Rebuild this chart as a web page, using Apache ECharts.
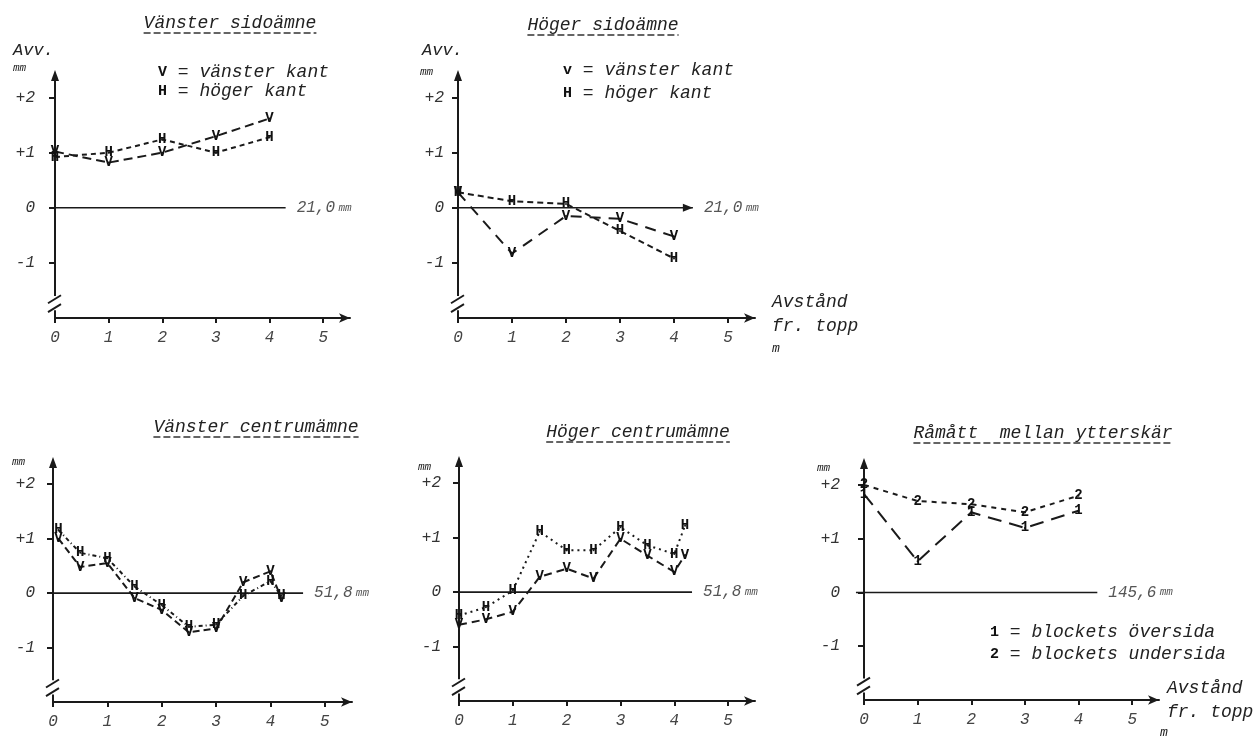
<!DOCTYPE html>
<html><head><meta charset="utf-8">
<script src="https://cdn.jsdelivr.net/npm/echarts@6/dist/echarts.min.js"></script>
<style>html,body{margin:0;padding:0;background:#fff}#c{width:1258px;height:739px}</style>
</head><body><div id="c"></div>
<script>
const FONT = '"Liberation Mono", "DejaVu Sans Mono", monospace';
// ---- data ----
const xTicks = [0, 1, 2, 3, 4, 5];
const yTicks = [-1, 0, 1, 2];
const xSide = [0, 1, 2, 3, 4];
const p1V = [1.02, 0.82, 1.0, 1.3, 1.62];
const p1H = [0.92, 1.0, 1.24, 1.0, 1.28];
const p2V = [0.28, -0.83, -0.15, -0.2, -0.52];
const p2H = [0.28, 0.12, 0.07, -0.42, -0.92];
const xC3 = [0.1, 0.5, 1, 1.5, 2, 2.5, 3, 3.5, 4, 4.2];
const p3V = [1.0, 0.48, 0.55, -0.09, -0.31, -0.72, -0.65, 0.2, 0.4, -0.1];
const p3H = [1.16, 0.74, 0.64, 0.12, -0.22, -0.62, -0.58, -0.05, 0.22, -0.05];
const xC4 = [0, 0.5, 1, 1.5, 2, 2.5, 3, 3.5, 4, 4.2];
const p4V = [-0.6, -0.5, -0.36, 0.28, 0.43, 0.25, 0.98, 0.67, 0.37, 0.68];
const p4H = [-0.43, -0.28, 0.03, 1.11, 0.77, 0.77, 1.19, 0.86, 0.7, 1.22];
const p5S1 = [1.83, 0.58, 1.49, 1.2, 1.52];
const p5S2 = [2.0, 1.7, 1.64, 1.49, 1.8];
const refValues = ['21,0', '21,0', '51,8', '51,8', '145,6'];
const titles = ['Vänster sidoämne', 'Höger sidoämne', 'Vänster centrumämne', 'Höger centrumämne', 'Råmått  mellan ytterskär'];

// ---- layout ----
const grids = [
  {left: 55, top: 70, width: 295, height: 248},
  {left: 458, top: 70, width: 297, height: 248},
  {left: 53, top: 457, width: 299, height: 245},
  {left: 459, top: 456, width: 296, height: 245},
  {left: 864, top: 458, width: 295, height: 242}
];
const zeroStart = [0, 0, -0.1, 0, -0.15];
const zeroEnd = [4.3, 4.35, 4.6, 4.33, 4.35];
const zeroArrow = [false, true, false, false, false];
const yMargin = [20, 14, 18, 18, 24];
const INK = '#1a1a1a';

const xAxes = grids.map((g, i) => ({
  type: 'value', gridIndex: i, min: 0, max: 5.5,
  axisLine: {show: true, onZero: false, symbol: ['none', 'arrow'], symbolSize: [7, 11], lineStyle: {color: INK, width: 2}},
  axisTick: {show: true, customValues: xTicks, length: 5, inside: false, lineStyle: {color: INK, width: 2}},
  axisLabel: {customValues: xTicks, margin: 12, fontFamily: FONT, fontStyle: 'italic', fontSize: 16, color: '#444'},
  splitLine: {show: false}
}));
const yAxes = grids.map((g, i) => ({
  type: 'value', gridIndex: i, min: -2, max: 2.5,
  axisLine: {show: false},
  axisTick: {show: true, customValues: yTicks, length: 6, lineStyle: {color: INK, width: 2}},
  axisLabel: {customValues: yTicks, margin: yMargin[i], fontFamily: FONT, fontStyle: 'italic', fontSize: 16, color: '#333',
    formatter: v => (v > 0 ? '+' + v : '' + v)},
  splitLine: {show: false}
}));

// axis frame: broken y-axis with arrow, and the zero (reference) line with its value label
function frameSeries(i) {
  return {
    type: 'custom', xAxisIndex: i, yAxisIndex: i, silent: true, animation: false, z: 2, clip: false,
    data: [[0, 0]],
    renderItem: function (params, api) {
      const c = (x, y) => api.coord([x, y]);
      const top = c(0, 2.5), a1 = c(0, -1.6), a2 = c(0, -1.86), bot = c(0, -2);
      const s1 = c(0, -1.66), s2 = c(0, -1.82);
      const z0 = c(zeroStart[i], 0), z1 = c(zeroEnd[i], 0);
      const st = {stroke: INK, lineWidth: 2};
      const ch = [
        {type: 'line', shape: {x1: a1[0], y1: a1[1], x2: top[0], y2: top[1] + 3}, style: st},
        {type: 'polygon', shape: {points: [[top[0] - 4, top[1] + 11], [top[0], top[1]], [top[0] + 4, top[1] + 11]]}, style: {fill: INK}},
        {type: 'line', shape: {x1: a2[0], y1: a2[1], x2: bot[0], y2: bot[1]}, style: st},
        {type: 'line', shape: {x1: s1[0] - 7, y1: s1[1] + 4, x2: s1[0] + 6, y2: s1[1] - 4}, style: st},
        {type: 'line', shape: {x1: s2[0] - 7, y1: s2[1] + 4, x2: s2[0] + 6, y2: s2[1] - 4}, style: st},
        {type: 'line', shape: {x1: z0[0], y1: z0[1], x2: z1[0], y2: z1[1]}, style: {stroke: INK, lineWidth: 1.6}},
        {type: 'text', x: z1[0] + 11, y: z1[1], style: {
          text: '{a|' + refValues[i] + '} {b|mm}', verticalAlign: 'middle', align: 'left',
          rich: {a: {fontFamily: FONT, fontStyle: 'italic', fontSize: 16, fill: '#555'},
                 b: {fontFamily: FONT, fontStyle: 'italic', fontSize: 11, fill: '#555'}}}}
      ];
      if (zeroArrow[i]) {
        ch.push({type: 'polygon', shape: {points: [[z1[0] - 10, z1[1] - 4], [z1[0], z1[1]], [z1[0] - 10, z1[1] + 4]]}, style: {fill: INK}});
      }
      return {type: 'group', children: ch};
    }
  };
}

function ser(i, name, xs, ys, letter, dash) {
  return {
    type: 'line', name: name, xAxisIndex: i, yAxisIndex: i,
    data: xs.map((x, k) => [x, ys[k]]),
    symbol: 'circle', symbolSize: 2, showAllSymbol: true,
    lineStyle: {color: INK, width: 2, type: dash},
    itemStyle: {color: INK},
    label: {show: true, position: 'inside', formatter: letter, fontFamily: FONT, fontWeight: 'bold', fontSize: 14, color: '#111'},
    animation: false, z: 3
  };
}

const series = [
  frameSeries(0), frameSeries(1), frameSeries(2), frameSeries(3), frameSeries(4),
  ser(0, 'V', xSide, p1V, 'V', [9, 5]),
  ser(0, 'H', xSide, p1H, 'H', [5, 4]),
  ser(1, 'V', xSide, p2V, 'V', [11, 8]),
  ser(1, 'H', xSide, p2H, 'H', [6, 4]),
  ser(2, 'V', xC3, p3V, 'V', [7, 4]),
  ser(2, 'H', xC3, p3H, 'H', [4, 3, 1, 3]),
  ser(3, 'V', xC4, p4V, 'V', [8, 5]),
  ser(3, 'H', xC4, p4H, 'H', [2, 4]),
  ser(4, '1', xSide, p5S1, '1', [14, 8]),
  ser(4, '2', xSide, p5S2, '2', [5, 5])
];

// ---- static text ----
const G = [];
function txt(text, x, y, size, opts) {
  opts = opts || {};
  G.push({type: 'text', x: x, y: y, silent: true, style: {
    text: text, font: 'italic ' + size + 'px ' + FONT, fill: opts.fill || '#222',
    textAlign: opts.align || 'left', textVerticalAlign: 'middle'}});
}
function rtxt(letter, rest, x, y) {
  G.push({type: 'text', x: x, y: y, silent: true, style: {
    text: '{b|' + letter + '}{n|' + rest + '}', textVerticalAlign: 'middle',
    rich: {b: {font: 'bold 15px ' + FONT, fill: '#111'}, n: {font: 'italic 18px ' + FONT, fill: '#222'}}}});
}
const titlePos = [[230, 23], [603, 25], [256, 427], [638, 432], [1043, 433]];
titles.forEach((t, i) => {
  const [cx, cy] = titlePos[i];
  txt(t, cx, cy, 18, {align: 'center'});
  const w = t.length * 0.6 * 18;
  G.push({type: 'line', silent: true, shape: {x1: cx - w / 2, y1: cy + 10, x2: cx + w / 2, y2: cy + 10},
    style: {stroke: '#333', lineWidth: 1.5, lineDash: [7, 3]}});
});
txt('Avv.', 13, 50, 17);
txt('mm', 13, 68, 11);
txt('Avv.', 422, 50, 17);
txt('mm', 420, 72, 11);
txt('mm', 12, 462, 11);
txt('mm', 418, 467, 11);
txt('mm', 817, 468, 11);
rtxt('V', ' = vänster kant', 158, 72);
rtxt('H', ' = höger kant', 158, 91);
rtxt('v', ' = vänster kant', 563, 70);
rtxt('H', ' = höger kant', 563, 93);
rtxt('1', ' = blockets översida', 990, 632);
rtxt('2', ' = blockets undersida', 990, 654);
txt('Avstånd', 772, 302, 18);
txt('fr. topp', 772, 326, 18);
txt('m', 772, 349, 13);
txt('Avstånd', 1167, 688, 18);
txt('fr. topp', 1167, 712, 18);
txt('m', 1160, 733, 13);

const chart = echarts.init(document.getElementById('c'), null, {renderer: 'canvas'});
chart.setOption({
  backgroundColor: '#ffffff',
  animation: false,
  grid: grids.map(g => Object.assign({containLabel: false, outerBoundsMode: 'none'}, g)),
  xAxis: xAxes,
  yAxis: yAxes,
  series: series,
  graphic: {elements: G}
});
</script></body></html>
